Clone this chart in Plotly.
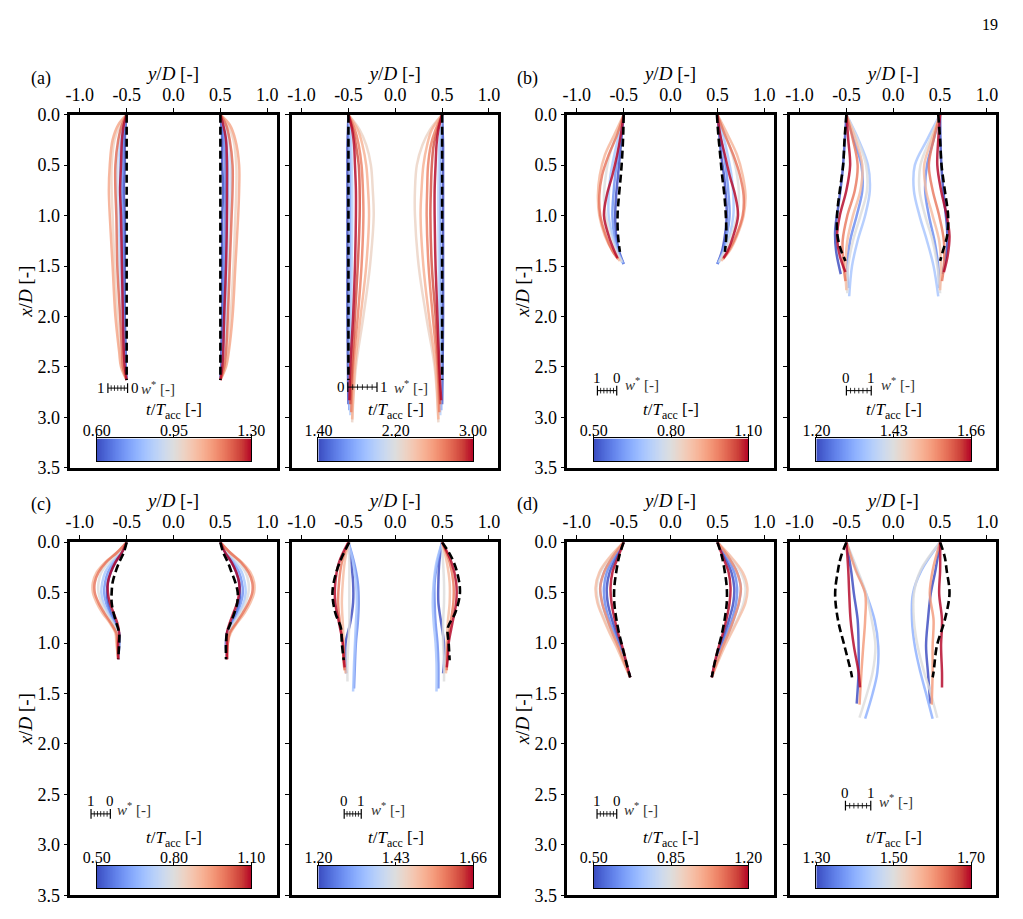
import numpy as np
import plotly.graph_objects as go
from plotly.colors import sample_colorscale

FONT = "Liberation Serif"

# ---------------- DATA ----------------
XD_TICKS = [0.0, 0.5, 1.0, 1.5, 2.0, 2.5, 3.0, 3.5]
XD_TICKTEXT = ["0.0", "0.5", "1.0", "1.5", "2.0", "2.5", "3.0", "3.5"]
YD_TICKS = [-1.0, -0.5, 0.0, 0.5, 1.0]
YD_TICKTEXT = ["-1.0", "-0.5", "0.0", "0.5", "1.0"]

# colour-bar ranges (t/T_acc) and their tick values
CB_RANGE = {1: (0.60, 1.30), 2: (1.40, 3.00), 3: (0.50, 1.10), 4: (1.20, 1.66),
            5: (0.50, 1.10), 6: (1.20, 1.66), 7: (0.50, 1.20), 8: (1.30, 1.70)}
CB_TICKS = {1: [0.60, 0.95, 1.30], 2: [1.40, 2.20, 3.00], 3: [0.50, 0.80, 1.10],
            4: [1.20, 1.43, 1.66], 5: [0.50, 0.80, 1.10], 6: [1.20, 1.43, 1.66],
            7: [0.50, 0.85, 1.20], 8: [1.30, 1.50, 1.70]}

# ---- (a) left
A1_T = [0.6, 0.7, 0.8, 0.9, 1.0, 1.1, 1.2, 1.3]
A1_X = [0, 0.1, 0.25, 0.5, 0.75, 1.0, 1.5, 2.0, 2.35, 2.5, 2.63]
A1_L = [
    [-0.50, -0.51, -0.52, -0.52, -0.53, -0.52, -0.52, -0.52, -0.51, -0.51, -0.50],
    [-0.50, -0.52, -0.54, -0.54, -0.55, -0.54, -0.54, -0.53, -0.52, -0.51, -0.50],
    [-0.50, -0.53, -0.56, -0.57, -0.57, -0.57, -0.56, -0.54, -0.53, -0.52, -0.50],
    [-0.50, -0.55, -0.58, -0.60, -0.60, -0.60, -0.58, -0.56, -0.54, -0.53, -0.50],
    [-0.50, -0.57, -0.63, -0.66, -0.66, -0.65, -0.63, -0.60, -0.57, -0.55, -0.50],
    [-0.50, -0.59, -0.65, -0.68, -0.69, -0.68, -0.65, -0.62, -0.58, -0.56, -0.50],
    [-0.50, -0.55, -0.59, -0.62, -0.62, -0.61, -0.60, -0.57, -0.55, -0.54, -0.50],
    [-0.50, -0.53, -0.55, -0.56, -0.57, -0.56, -0.55, -0.54, -0.53, -0.52, -0.50],
]
A1_R = [
    [0.50, 0.51, 0.52, 0.52, 0.53, 0.52, 0.52, 0.52, 0.51, 0.51, 0.50],
    [0.50, 0.52, 0.54, 0.55, 0.55, 0.55, 0.54, 0.53, 0.52, 0.51, 0.50],
    [0.50, 0.53, 0.56, 0.58, 0.58, 0.57, 0.56, 0.55, 0.53, 0.52, 0.50],
    [0.50, 0.55, 0.59, 0.61, 0.61, 0.60, 0.59, 0.57, 0.55, 0.53, 0.50],
    [0.50, 0.58, 0.64, 0.67, 0.67, 0.66, 0.64, 0.61, 0.58, 0.55, 0.50],
    [0.50, 0.60, 0.66, 0.70, 0.70, 0.69, 0.66, 0.63, 0.59, 0.56, 0.50],
    [0.50, 0.56, 0.60, 0.63, 0.63, 0.62, 0.60, 0.58, 0.56, 0.54, 0.50],
    [0.50, 0.53, 0.56, 0.57, 0.57, 0.57, 0.56, 0.54, 0.53, 0.52, 0.50],
]
A1_DX = [0.0, 2.63]
A1_DL = [-0.50, -0.50]
A1_DR = [0.50, 0.50]

# ---- (a) right
A2_T = [1.4, 1.7, 2.0, 2.3, 2.5, 2.7, 2.85, 3.0]
A2_X = [
    [0, 0.15, 0.3, 0.5, 0.75, 1.0, 1.5, 2.0, 2.5, 2.87],
    [0, 0.15, 0.3, 0.5, 0.75, 1.0, 1.5, 2.0, 2.5, 2.93],
    [0, 0.15, 0.3, 0.5, 0.75, 1.0, 1.5, 2.0, 2.5, 2.98],
    [0, 0.15, 0.3, 0.5, 0.75, 1.0, 1.5, 2.0, 2.5, 3.05],
    [0, 0.15, 0.3, 0.5, 0.75, 1.0, 1.5, 2.0, 2.5, 3.02],
    [0, 0.15, 0.3, 0.5, 0.75, 1.0, 1.5, 2.0, 2.5, 2.95],
    [0, 0.15, 0.3, 0.5, 0.75, 1.0, 1.5, 2.0, 2.5, 2.87],
    [0, 0.15, 0.3, 0.5, 0.75, 1.0, 1.5, 2.0, 2.5, 2.83],
]
A2_L = [
    [-0.50, -0.505, -0.51, -0.51, -0.51, -0.51, -0.51, -0.51, -0.505, -0.50],
    [-0.50, -0.49, -0.485, -0.48, -0.48, -0.48, -0.48, -0.485, -0.49, -0.49],
    [-0.50, -0.48, -0.47, -0.465, -0.46, -0.46, -0.465, -0.47, -0.48, -0.48],
    [-0.50, -0.38, -0.31, -0.26, -0.24, -0.23, -0.27, -0.34, -0.42, -0.46],
    [-0.50, -0.40, -0.35, -0.31, -0.29, -0.28, -0.31, -0.37, -0.43, -0.46],
    [-0.50, -0.43, -0.39, -0.36, -0.345, -0.34, -0.36, -0.40, -0.45, -0.47],
    [-0.50, -0.45, -0.42, -0.39, -0.38, -0.38, -0.40, -0.43, -0.46, -0.48],
    [-0.50, -0.46, -0.44, -0.43, -0.42, -0.42, -0.43, -0.45, -0.48, -0.49],
]
A2_R = [
    [0.50, 0.505, 0.51, 0.51, 0.51, 0.51, 0.51, 0.51, 0.505, 0.50],
    [0.50, 0.49, 0.485, 0.48, 0.48, 0.48, 0.48, 0.485, 0.49, 0.49],
    [0.50, 0.48, 0.47, 0.465, 0.46, 0.46, 0.465, 0.47, 0.48, 0.48],
    [0.50, 0.37, 0.29, 0.23, 0.21, 0.21, 0.25, 0.33, 0.42, 0.46],
    [0.50, 0.39, 0.34, 0.30, 0.28, 0.27, 0.30, 0.36, 0.43, 0.46],
    [0.50, 0.43, 0.38, 0.35, 0.34, 0.335, 0.355, 0.40, 0.45, 0.47],
    [0.50, 0.45, 0.41, 0.39, 0.38, 0.375, 0.39, 0.43, 0.46, 0.48],
    [0.50, 0.46, 0.44, 0.43, 0.42, 0.42, 0.43, 0.45, 0.47, 0.49],
]
A2_DX = [0.0, 2.63]
A2_DL = [-0.50, -0.50]
A2_DR = [0.50, 0.50]

# ---- (b) left
B1_T = [0.5, 0.6, 0.7, 0.8, 0.9, 1.0, 1.1]
B1_X = [
    [0, 0.2, 0.4, 0.6, 0.8, 1.0, 1.2, 1.35, 1.48],
    [0, 0.2, 0.4, 0.6, 0.8, 1.0, 1.2, 1.35, 1.48],
    [0, 0.2, 0.4, 0.6, 0.8, 1.0, 1.2, 1.35, 1.47],
    [0, 0.2, 0.4, 0.6, 0.8, 1.0, 1.2, 1.35, 1.46],
    [0, 0.2, 0.4, 0.6, 0.8, 1.0, 1.2, 1.35, 1.45],
    [0, 0.2, 0.4, 0.6, 0.8, 1.0, 1.2, 1.35, 1.43],
    [0, 0.2, 0.4, 0.6, 0.8, 1.0, 1.2, 1.35, 1.42],
]
B1_L = [
    [-0.50, -0.52, -0.54, -0.56, -0.58, -0.59, -0.58, -0.55, -0.50],
    [-0.50, -0.53, -0.56, -0.59, -0.61, -0.62, -0.60, -0.56, -0.50],
    [-0.50, -0.55, -0.60, -0.64, -0.66, -0.66, -0.62, -0.57, -0.51],
    [-0.50, -0.58, -0.65, -0.69, -0.71, -0.69, -0.64, -0.58, -0.52],
    [-0.50, -0.60, -0.70, -0.755, -0.775, -0.76, -0.70, -0.62, -0.54],
    [-0.50, -0.57, -0.66, -0.73, -0.76, -0.75, -0.69, -0.62, -0.56],
    [-0.50, -0.53, -0.57, -0.62, -0.68, -0.71, -0.66, -0.60, -0.565],
]
B1_R = [
    [0.50, 0.52, 0.54, 0.57, 0.59, 0.60, 0.58, 0.55, 0.50],
    [0.50, 0.53, 0.57, 0.60, 0.62, 0.63, 0.60, 0.56, 0.50],
    [0.50, 0.56, 0.61, 0.65, 0.67, 0.67, 0.63, 0.57, 0.51],
    [0.50, 0.59, 0.66, 0.71, 0.73, 0.71, 0.65, 0.58, 0.52],
    [0.50, 0.61, 0.71, 0.77, 0.80, 0.78, 0.71, 0.63, 0.54],
    [0.50, 0.58, 0.67, 0.74, 0.78, 0.77, 0.70, 0.62, 0.56],
    [0.50, 0.53, 0.58, 0.63, 0.69, 0.72, 0.67, 0.61, 0.565],
]
B1_DX = [0, 0.2, 0.4, 0.6, 0.8, 1.0, 1.2, 1.36]
B1_DL = [-0.50, -0.505, -0.515, -0.53, -0.55, -0.565, -0.56, -0.54]
B1_DR = [0.495, 0.51, 0.53, 0.55, 0.575, 0.59, 0.595, 0.58]

# ---- (b) right
B2_T = [1.20, 1.27, 1.35, 1.43, 1.50, 1.58, 1.66]
B2_X = [
    [0, 0.3, 0.6, 0.9, 1.15, 1.35, 1.58],
    [0, 0.25, 0.5, 0.75, 1.0, 1.25, 1.5, 1.72],
    [0, 0.25, 0.5, 0.75, 1.0, 1.25, 1.5, 1.80],
    [0, 0.25, 0.5, 0.75, 1.0, 1.25, 1.5, 1.77],
    [0, 0.25, 0.5, 0.75, 1.0, 1.25, 1.5, 1.74],
    [0, 0.25, 0.5, 0.75, 1.0, 1.25, 1.5, 1.65],
    [0, 0.25, 0.5, 0.75, 1.0, 1.2, 1.4, 1.56],
]
B2_L = [
    [-0.50, -0.52, -0.545, -0.585, -0.62, -0.61, -0.56],
    [-0.50, -0.42, -0.34, -0.33, -0.39, -0.46, -0.49, -0.48],
    [-0.50, -0.37, -0.27, -0.25, -0.30, -0.38, -0.44, -0.47],
    [-0.50, -0.38, -0.29, -0.28, -0.35, -0.43, -0.48, -0.49],
    [-0.50, -0.40, -0.33, -0.35, -0.43, -0.49, -0.51, -0.50],
    [-0.50, -0.43, -0.38, -0.41, -0.49, -0.54, -0.53, -0.51],
    [-0.50, -0.48, -0.46, -0.50, -0.57, -0.60, -0.57, -0.51],
]
B2_R = [
    [0.50, 0.505, 0.52, 0.55, 0.575, 0.57, 0.525],
    [0.50, 0.43, 0.36, 0.34, 0.38, 0.44, 0.48, 0.49],
    [0.50, 0.36, 0.23, 0.22, 0.28, 0.36, 0.43, 0.48],
    [0.50, 0.39, 0.29, 0.28, 0.34, 0.42, 0.47, 0.50],
    [0.50, 0.41, 0.33, 0.35, 0.42, 0.49, 0.51, 0.50],
    [0.50, 0.43, 0.38, 0.42, 0.49, 0.54, 0.54, 0.52],
    [0.50, 0.48, 0.47, 0.51, 0.57, 0.60, 0.58, 0.54],
]
B2_DX = [0, 0.25, 0.5, 0.75, 1.0, 1.2, 1.35, 1.45]
B2_DL = [-0.50, -0.52, -0.535, -0.57, -0.60, -0.595, -0.555, -0.51]
B2_DR = [0.48, 0.50, 0.515, 0.55, 0.585, 0.575, 0.53, 0.50]

# ---- (c) left
C1_T = [0.5, 0.6, 0.7, 0.8, 0.9, 1.0, 1.1]
C1_X = [0, 0.1, 0.2, 0.3, 0.4, 0.5, 0.6, 0.7, 0.8, 0.9, 1.0, 1.16]
C1_L = [
    [-0.50, -0.55, -0.62, -0.67, -0.70, -0.71, -0.70, -0.67, -0.62, -0.58, -0.58, -0.59],
    [-0.50, -0.56, -0.64, -0.70, -0.73, -0.74, -0.72, -0.68, -0.63, -0.59, -0.58, -0.59],
    [-0.50, -0.57, -0.66, -0.73, -0.76, -0.77, -0.75, -0.70, -0.64, -0.59, -0.59, -0.59],
    [-0.50, -0.58, -0.69, -0.77, -0.80, -0.80, -0.77, -0.72, -0.65, -0.60, -0.60, -0.59],
    [-0.50, -0.60, -0.73, -0.82, -0.86, -0.86, -0.82, -0.76, -0.68, -0.62, -0.61, -0.59],
    [-0.50, -0.60, -0.72, -0.80, -0.84, -0.84, -0.80, -0.74, -0.67, -0.61, -0.60, -0.59],
    [-0.50, -0.55, -0.62, -0.67, -0.70, -0.70, -0.68, -0.64, -0.60, -0.58, -0.59, -0.59],
]
C1_R = [
    [0.50, 0.55, 0.62, 0.67, 0.70, 0.71, 0.70, 0.67, 0.62, 0.57, 0.56, 0.57],
    [0.50, 0.56, 0.64, 0.70, 0.73, 0.74, 0.72, 0.68, 0.63, 0.58, 0.56, 0.57],
    [0.50, 0.57, 0.66, 0.73, 0.76, 0.77, 0.75, 0.70, 0.64, 0.58, 0.57, 0.57],
    [0.50, 0.58, 0.69, 0.77, 0.80, 0.80, 0.77, 0.72, 0.65, 0.59, 0.57, 0.57],
    [0.50, 0.60, 0.73, 0.82, 0.86, 0.86, 0.82, 0.76, 0.68, 0.61, 0.58, 0.57],
    [0.50, 0.60, 0.72, 0.80, 0.84, 0.84, 0.80, 0.74, 0.67, 0.60, 0.58, 0.57],
    [0.50, 0.55, 0.62, 0.67, 0.70, 0.70, 0.68, 0.64, 0.60, 0.57, 0.57, 0.57],
]
C1_DX = [0, 0.1, 0.2, 0.3, 0.4, 0.5, 0.6, 0.7, 0.8, 0.9, 1.0, 1.16]
C1_DL = [-0.50, -0.53, -0.58, -0.62, -0.65, -0.66, -0.66, -0.64, -0.61, -0.58, -0.58, -0.59]
C1_DR = [0.50, 0.53, 0.58, 0.62, 0.66, 0.685, 0.68, 0.65, 0.61, 0.57, 0.56, 0.56]

# ---- (c) right
C2_T = [1.20, 1.27, 1.35, 1.43, 1.50, 1.58, 1.66]
C2_X = [
    [0, 0.2, 0.4, 0.6, 0.8, 1.0, 1.2, 1.30],
    [0, 0.2, 0.4, 0.6, 0.8, 1.0, 1.2, 1.45],
    [0, 0.2, 0.4, 0.6, 0.8, 1.0, 1.2, 1.48],
    [0, 0.2, 0.4, 0.6, 0.8, 1.0, 1.2, 1.38],
    [0, 0.2, 0.4, 0.6, 0.8, 1.0, 1.2, 1.30],
    [0, 0.2, 0.4, 0.6, 0.8, 1.0, 1.2, 1.27],
    [0, 0.2, 0.4, 0.6, 0.8, 1.0, 1.15, 1.24],
]
C2_L = [
    [-0.50, -0.47, -0.45, -0.45, -0.48, -0.53, -0.53, -0.52],
    [-0.50, -0.44, -0.40, -0.39, -0.40, -0.42, -0.43, -0.44],
    [-0.50, -0.45, -0.42, -0.41, -0.42, -0.43, -0.44, -0.45],
    [-0.50, -0.49, -0.49, -0.49, -0.49, -0.50, -0.51, -0.51],
    [-0.50, -0.54, -0.56, -0.57, -0.56, -0.55, -0.54, -0.53],
    [-0.50, -0.57, -0.60, -0.61, -0.59, -0.56, -0.55, -0.54],
    [-0.50, -0.60, -0.64, -0.64, -0.60, -0.56, -0.55, -0.54],
]
C2_R = [
    [0.50, 0.47, 0.46, 0.46, 0.49, 0.52, 0.52, 0.51],
    [0.50, 0.45, 0.42, 0.42, 0.43, 0.45, 0.46, 0.46],
    [0.50, 0.44, 0.41, 0.40, 0.41, 0.43, 0.44, 0.44],
    [0.50, 0.51, 0.52, 0.52, 0.51, 0.51, 0.52, 0.52],
    [0.50, 0.55, 0.58, 0.58, 0.56, 0.55, 0.55, 0.54],
    [0.50, 0.58, 0.62, 0.62, 0.59, 0.56, 0.55, 0.55],
    [0.50, 0.60, 0.65, 0.65, 0.61, 0.57, 0.56, 0.55],
]
C2_DX = [0, 0.15, 0.3, 0.5, 0.7, 0.85, 1.0, 1.17]
C2_DL = [-0.49, -0.57, -0.63, -0.67, -0.64, -0.58, -0.57, -0.55]
C2_DR = [0.50, 0.60, 0.66, 0.69, 0.64, 0.56, 0.57, 0.58]

# ---- (d) left
D1_T = [0.5, 0.6, 0.7, 0.85, 0.95, 1.05, 1.2]
D1_X = [0, 0.15, 0.3, 0.45, 0.6, 0.75, 0.9, 1.05, 1.2, 1.34]
D1_L = [
    [-0.50, -0.58, -0.65, -0.68, -0.67, -0.63, -0.58, -0.53, -0.48, -0.43],
    [-0.50, -0.60, -0.68, -0.71, -0.70, -0.66, -0.60, -0.54, -0.48, -0.43],
    [-0.50, -0.62, -0.71, -0.75, -0.73, -0.68, -0.62, -0.55, -0.49, -0.43],
    [-0.50, -0.64, -0.75, -0.79, -0.77, -0.71, -0.64, -0.56, -0.49, -0.43],
    [-0.50, -0.65, -0.76, -0.80, -0.78, -0.72, -0.65, -0.57, -0.50, -0.43],
    [-0.50, -0.62, -0.71, -0.75, -0.73, -0.68, -0.62, -0.55, -0.49, -0.43],
    [-0.50, -0.56, -0.62, -0.64, -0.63, -0.60, -0.56, -0.51, -0.47, -0.43],
]
D1_R = [
    [0.50, 0.58, 0.65, 0.68, 0.67, 0.63, 0.58, 0.53, 0.48, 0.44],
    [0.50, 0.60, 0.68, 0.71, 0.70, 0.66, 0.60, 0.54, 0.48, 0.44],
    [0.50, 0.62, 0.71, 0.75, 0.73, 0.68, 0.62, 0.55, 0.49, 0.44],
    [0.50, 0.64, 0.75, 0.80, 0.78, 0.72, 0.64, 0.56, 0.49, 0.44],
    [0.50, 0.65, 0.77, 0.82, 0.80, 0.73, 0.65, 0.57, 0.50, 0.44],
    [0.50, 0.62, 0.71, 0.75, 0.73, 0.68, 0.62, 0.55, 0.49, 0.44],
    [0.50, 0.56, 0.62, 0.64, 0.63, 0.60, 0.56, 0.51, 0.47, 0.44],
]
D1_DX = [0, 0.15, 0.3, 0.45, 0.6, 0.75, 0.9, 1.05, 1.2, 1.34]
D1_DL = [-0.50, -0.55, -0.58, -0.60, -0.60, -0.58, -0.55, -0.51, -0.47, -0.43]
D1_DR = [0.50, 0.55, 0.58, 0.60, 0.60, 0.58, 0.55, 0.51, 0.47, 0.44]

# ---- (d) right
D2_T = [1.3, 1.4, 1.5, 1.6, 1.7]
D2_X = [
    [0, 0.28, 0.51, 0.77, 1.03, 1.29, 1.60],
    [0, 0.28, 0.51, 0.77, 1.03, 1.29, 1.50, 1.75],
    [0, 0.28, 0.51, 0.77, 1.03, 1.29, 1.50, 1.74],
    [0, 0.28, 0.51, 0.77, 1.03, 1.29, 1.61],
    [0, 0.28, 0.51, 0.77, 1.03, 1.29, 1.44],
]
D2_L = [
    [-0.50, -0.45, -0.42, -0.38, -0.37, -0.37, -0.39],
    [-0.50, -0.39, -0.29, -0.20, -0.16, -0.17, -0.22, -0.30],
    [-0.50, -0.38, -0.29, -0.23, -0.19, -0.22, -0.28, -0.36],
    [-0.50, -0.40, -0.30, -0.30, -0.32, -0.34, -0.36],
    [-0.50, -0.48, -0.47, -0.455, -0.42, -0.37, -0.355],
]
D2_R = [
    [0.50, 0.45, 0.40, 0.37, 0.35, 0.37, 0.395],
    [0.50, 0.30, 0.21, 0.20, 0.23, 0.29, 0.35, 0.42],
    [0.50, 0.29, 0.22, 0.22, 0.26, 0.33, 0.40, 0.47],
    [0.50, 0.42, 0.39, 0.43, 0.42, 0.42, 0.41],
    [0.50, 0.50, 0.49, 0.52, 0.51, 0.52, 0.52],
]
D2_DX = [0, 0.15, 0.28, 0.51, 0.77, 1.03, 1.29, 1.34]
D2_DL = [-0.50, -0.56, -0.59, -0.62, -0.59, -0.52, -0.45, -0.44]
D2_DR = [0.50, 0.55, 0.57, 0.60, 0.55, 0.465, 0.43, 0.42]

PANELS = {
    1: (A1_T, A1_X, A1_L, A1_R, A1_DX, A1_DL, A1_DR),
    2: (A2_T, A2_X, A2_L, A2_R, A2_DX, A2_DL, A2_DR),
    3: (B1_T, B1_X, B1_L, B1_R, B1_DX, B1_DL, B1_DR),
    4: (B2_T, B2_X, B2_L, B2_R, B2_DX, B2_DL, B2_DR),
    5: (C1_T, C1_X, C1_L, C1_R, C1_DX, C1_DL, C1_DR),
    6: (C2_T, C2_X, C2_L, C2_R, C2_DX, C2_DL, C2_DR),
    7: (D1_T, D1_X, D1_L, D1_R, D1_DX, D1_DL, D1_DR),
    8: (D2_T, D2_X, D2_L, D2_R, D2_DX, D2_DL, D2_DR),
}

# w* scale bars: labels at the two ends
WBAR_LABELS = {1: ("1", "0"), 2: ("0", "1"), 3: ("1", "0"), 4: ("0", "1"),
               5: ("1", "0"), 6: ("0", "1"), 7: ("1", "0"), 8: ("0", "1")}

# ---------------- STYLE / LAYOUT ----------------
COOLWARM = [
    [0.0, "rgb(59,76,192)"], [0.0625, "rgb(77,104,215)"], [0.125, "rgb(98,130,234)"],
    [0.1875, "rgb(119,154,247)"], [0.25, "rgb(141,176,254)"], [0.3125, "rgb(163,194,255)"],
    [0.375, "rgb(184,208,249)"], [0.4375, "rgb(204,217,238)"], [0.5, "rgb(221,221,221)"],
    [0.5625, "rgb(236,211,197)"], [0.625, "rgb(245,196,173)"], [0.6875, "rgb(247,177,148)"],
    [0.75, "rgb(244,154,123)"], [0.8125, "rgb(236,127,99)"], [0.875, "rgb(222,96,77)"],
    [0.9375, "rgb(203,62,56)"], [1.0, "rgb(180,4,38)"],
]

# bar geometry in data units: (start, end, x/D, label mode, w*-label y/D, w*-label x/D)
WBAR_POS = {
    1: (-0.70, -0.49, 2.71, "side", -0.17, 2.71),
    2: (-0.506, -0.195, 2.70, "side", 0.17, 2.70),
    3: (-0.78, -0.574, 2.735, "above", -0.30, 2.665),
    4: (-0.50, -0.235, 2.735, "above", 0.05, 2.67),
    5: (-0.88, -0.674, 2.693, "above", -0.42, 2.64),
    6: (-0.545, -0.363, 2.693, "above", -0.078, 2.64),
    7: (-0.784, -0.574, 2.693, "above", -0.314, 2.64),
    8: (-0.51, -0.24, 2.612, "above", 0.03, 2.57),
}

W, H = 1023, 919
COL_X = [58, 286, 569, 798]
ROW_Y = [107, 544]
PW, PH = 212, 361


def px2x(p):
    return p / W


def py2y(p):
    return 1 - p / H


def tcolor(t, vmin, vmax):
    return sample_colorscale(COOLWARM, [(t - vmin) / (vmax - vmin)])[0]


fig = go.Figure()
layout = dict(width=W, height=H, margin=dict(l=0, r=0, t=0, b=0),
              paper_bgcolor="white", plot_bgcolor="white", showlegend=False,
              font=dict(family=FONT, color="black"))
annotations = []

for i in range(1, 9):
    r, c = (i - 1) // 4, (i - 1) % 4
    x0, y0 = COL_X[c], ROW_Y[r]
    xk = "xaxis" if i == 1 else f"xaxis{i}"
    yk = "yaxis" if i == 1 else f"yaxis{i}"
    layout[xk] = dict(domain=[px2x(x0), px2x(x0 + PW)], range=[-1.1, 1.1], side="top",
                      anchor=f"y{i}", tickmode="array", tickvals=YD_TICKS,
                      ticktext=YD_TICKTEXT, ticks="outside", ticklen=4, tickwidth=1,
                      tickcolor="black", showline=True, linewidth=2.5, linecolor="black",
                      mirror=True, showgrid=False, zeroline=False,
                      tickfont=dict(size=18, family=FONT, color="black"),
                      title=dict(text="<i>y</i>/<i>D</i> [-]",
                                 font=dict(size=19, family=FONT, color="black"),
                                 standoff=0))
    left = c in (0, 2)
    ya = dict(domain=[py2y(y0 + PH), py2y(y0)], range=[3.5, 0], anchor=f"x{i}",
              tickmode="array", tickvals=XD_TICKS, ticktext=XD_TICKTEXT, ticks="outside",
              ticklen=4, tickwidth=1, tickcolor="black", showline=True, linewidth=2.5,
              linecolor="black", mirror=True, showgrid=False, zeroline=False,
              showticklabels=left, tickfont=dict(size=18, family=FONT, color="black"))
    if left:
        ya["title"] = dict(text="<i>x</i>/<i>D</i> [-]",
                           font=dict(size=19, family=FONT, color="black"), standoff=0)
    layout[yk] = ya

    # profiles
    T, X, L, R, DX, DL, DR = PANELS[i]
    vmin, vmax = CB_RANGE[i]
    for k, t in enumerate(T):
        xs = X[k] if isinstance(X[0], list) else X
        col = tcolor(t, vmin, vmax)
        for side in (L[k], R[k]):
            fig.add_trace(go.Scatter(x=side, y=xs, mode="lines", xaxis=f"x{i}", yaxis=f"y{i}",
                                     line=dict(color=col, width=2.5, shape="spline", smoothing=1.0),
                                     opacity=0.82, hoverinfo="skip"))
    for side in (DL, DR):
        fig.add_trace(go.Scatter(x=side, y=DX, mode="lines", xaxis=f"x{i}", yaxis=f"y{i}",
                                 line=dict(color="black", width=2.6, dash="8px,4px",
                                           shape="spline", smoothing=1.0),
                                 hoverinfo="skip"))

    # w* scale bar
    b0, b1, bxd, mode, wy, wxd = WBAR_POS[i]
    fig.add_trace(go.Scatter(x=[b0, b1], y=[bxd, bxd], mode="lines+markers",
                             xaxis=f"x{i}", yaxis=f"y{i}",
                             line=dict(color="black", width=1),
                             marker=dict(symbol="line-ns", size=7,
                                         line=dict(width=1.2, color="black")),
                             hoverinfo="skip"))
    minor = list(np.linspace(b0, b1, 7)[1:-1])
    fig.add_trace(go.Scatter(x=minor, y=[bxd] * len(minor), mode="markers",
                             xaxis=f"x{i}", yaxis=f"y{i}",
                             marker=dict(symbol="line-ns", size=4,
                                         line=dict(width=0.8, color="black")),
                             hoverinfo="skip"))
    la, lb = WBAR_LABELS[i]
    if mode == "side":
        annotations.append(dict(x=b0, y=bxd, xref=f"x{i}", yref=f"y{i}", text=la,
                                showarrow=False, xanchor="right", xshift=-1,
                                font=dict(size=15, family=FONT)))
        annotations.append(dict(x=b1, y=bxd, xref=f"x{i}", yref=f"y{i}", text=lb,
                                showarrow=False, xanchor="left", xshift=1,
                                font=dict(size=15, family=FONT)))
    else:
        for bx, lab in ((b0, la), (b1, lb)):
            annotations.append(dict(x=bx, y=bxd, xref=f"x{i}", yref=f"y{i}", text=lab,
                                    showarrow=False, yshift=13,
                                    font=dict(size=15, family=FONT)))
    annotations.append(dict(x=wy, y=wxd, xref=f"x{i}", yref=f"y{i}",
                            text="<i>w</i><sup>*</sup> [-]", showarrow=False,
                            font=dict(size=15, family=FONT, color="#333")))

    # colour bar as a small heatmap axis
    j = i + 8
    layout[f"xaxis{j}"] = dict(domain=[px2x(x0 + 27), px2x(x0 + 186)], range=[vmin, vmax],
                               side="top", anchor=f"y{j}", tickmode="array",
                               tickvals=CB_TICKS[i],
                               ticktext=[f"{v:.2f}" for v in CB_TICKS[i]],
                               ticks="outside", ticklen=3, tickwidth=1, tickcolor="black",
                               ticklabelstandoff=-8,
                               showline=True, linewidth=1.2, linecolor="black", mirror=True,
                               showgrid=False, zeroline=False,
                               tickfont=dict(size=16, family=FONT, color="black"))
    layout[f"yaxis{j}"] = dict(domain=[py2y(y0 + 354), py2y(y0 + 331)], range=[0, 1],
                               anchor=f"x{j}", showline=True, linewidth=1.2,
                               linecolor="black", mirror=True, showticklabels=False,
                               ticks="", showgrid=False, zeroline=False)
    annotations.append(dict(x=px2x(x0 + 106.5), y=py2y(y0 + 303), xref="paper", yref="paper",
                            xanchor="center", yanchor="middle",
                            text="<i>t</i>/<i>T</i><sub>acc</sub> [-]", showarrow=False,
                            font=dict(size=17, family=FONT, color="black")))
    grad = np.linspace(vmin, vmax, 256)
    fig.add_trace(go.Heatmap(x=grad, y=[0.5], z=[grad], colorscale=COOLWARM,
                             zmin=vmin, zmax=vmax, showscale=False,
                             xaxis=f"x{j}", yaxis=f"y{j}", hoverinfo="skip"))

# panel labels and page number
for lab, px, py in (("(a)", 28, 70), ("(b)", 528, 70), ("(c)", 28, 505), ("(d)", 528, 505)):
    annotations.append(dict(x=px2x(px), y=py2y(py), xref="paper", yref="paper", text=lab,
                            xanchor="center", yanchor="middle",
                            showarrow=False, font=dict(size=18, family=FONT)))
annotations.append(dict(x=px2x(1003), y=py2y(15), xref="paper", yref="paper", text="19",
                        xanchor="center", yanchor="middle",
                        showarrow=False, font=dict(size=16, family=FONT)))

layout["annotations"] = annotations
fig.update_layout(**layout)
fig.write_html("out.html")
